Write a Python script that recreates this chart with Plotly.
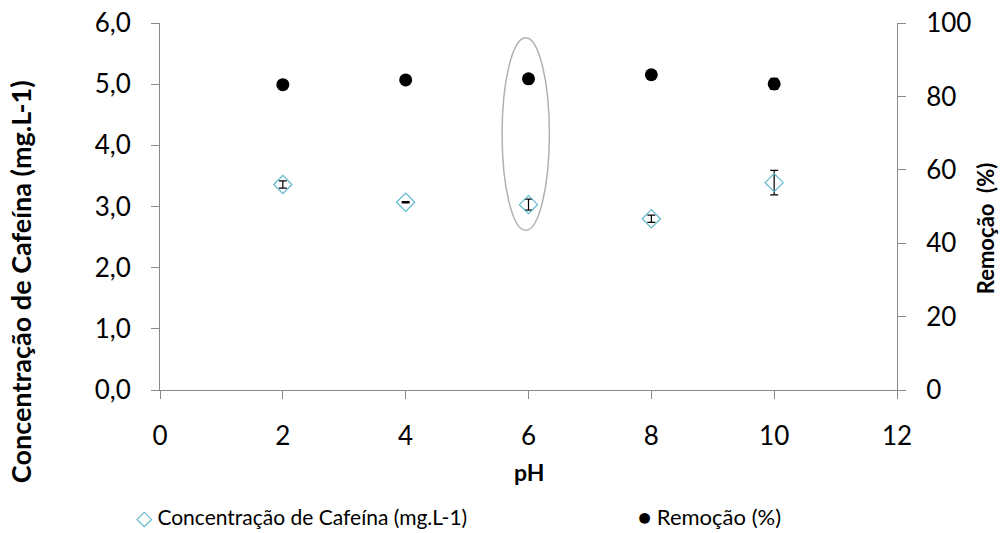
import plotly.graph_objects as go

ph = [2, 4, 6, 8, 10]
concentracao = [3.36, 3.07, 3.03, 2.80, 3.39]
conc_erro = [0.06, 0.01, 0.09, 0.06, 0.20]
remocao = [83.2, 84.5, 84.8, 85.9, 83.4]
rem_erro = [0.5, 0.5, 0.5, 0.5, 1.5]

FONT = "Lato"
TEAL = "#5fb8cc"

# plot area in pixels
L, R, T, B = 160, 897, 22.5, 390
PW, PH = R - L, B - T

fig = go.Figure()
fig.add_trace(go.Scatter(
    x=ph, y=concentracao, mode="markers", showlegend=False,
    name="Concentração de Cafeína (mg.L-1)",
    marker=dict(symbol="diamond-open", size=14, color=TEAL, line=dict(width=1.2)),
    error_y=dict(type="data", array=conc_erro, color="black", thickness=1.2, width=4),
))
fig.add_trace(go.Scatter(
    x=ph, y=remocao, mode="markers", name="Remoção (%)", yaxis="y2", showlegend=False,
    marker=dict(symbol="circle", size=13, color="black"),
    error_y=dict(type="data", array=rem_erro, color="black", thickness=1.2, width=4),
))

# Highlight around pH 6
fig.add_shape(type="circle", xref="x", yref="y",
              x0=5.57, x1=6.34, y0=2.61, y1=5.76,
              line=dict(color="#b0b0b0", width=1.5))

axis_common = dict(showgrid=False, zeroline=False, showline=True, linecolor="#888888",
                   linewidth=1, ticks="outside", tickcolor="#888888", ticklen=8,
                   ticklabelstandoff=15,
                   tickfont=dict(family=FONT, size=26, color="black"))


def px(xp):
    return (xp - L) / PW


def py(yp):
    return (B - yp) / PH


annots = [
    dict(text="<b>Concentração de Cafeína (mg.L-1)</b>", x=px(20), y=py(282), textangle=-90,
         font=dict(size=27)),
    dict(text="<b>Remoção  (%)</b>", x=px(985), y=py(228), textangle=-90, font=dict(size=22)),
    dict(text="<b>pH</b>", x=px(529), y=py(472), font=dict(size=23)),
    dict(text=f"<span style='color:{TEAL}'>◇</span> Concentração de Cafeína (mg.L-1)",
         x=px(134), y=py(517), xanchor="left", font=dict(size=21)),
    dict(text="● Remoção (%)",
         x=px(636), y=py(517), xanchor="left", font=dict(size=22)),
]
for a in annots:
    a.setdefault("xanchor", "center")
    fig.add_annotation(xref="paper", yref="paper", showarrow=False, yanchor="middle",
                       **{k: v for k, v in a.items() if k != "font"},
                       font=dict(family=FONT, color="black", **a["font"]))

fig.update_layout(
    width=1001, height=533,
    margin=dict(l=L, r=1001 - R, t=T, b=533 - B, autoexpand=False),
    paper_bgcolor="white", plot_bgcolor="white",
    font=dict(family=FONT, color="black"),
    separators=",.",
    showlegend=False,
    xaxis=dict(range=[0, 12], dtick=2, **axis_common),
    yaxis=dict(range=[0, 6], dtick=1, tickformat=".1f", **axis_common),
    yaxis2=dict(range=[0, 100], dtick=20, overlaying="y", side="right", **axis_common),
)

fig.write_html("out.html")
